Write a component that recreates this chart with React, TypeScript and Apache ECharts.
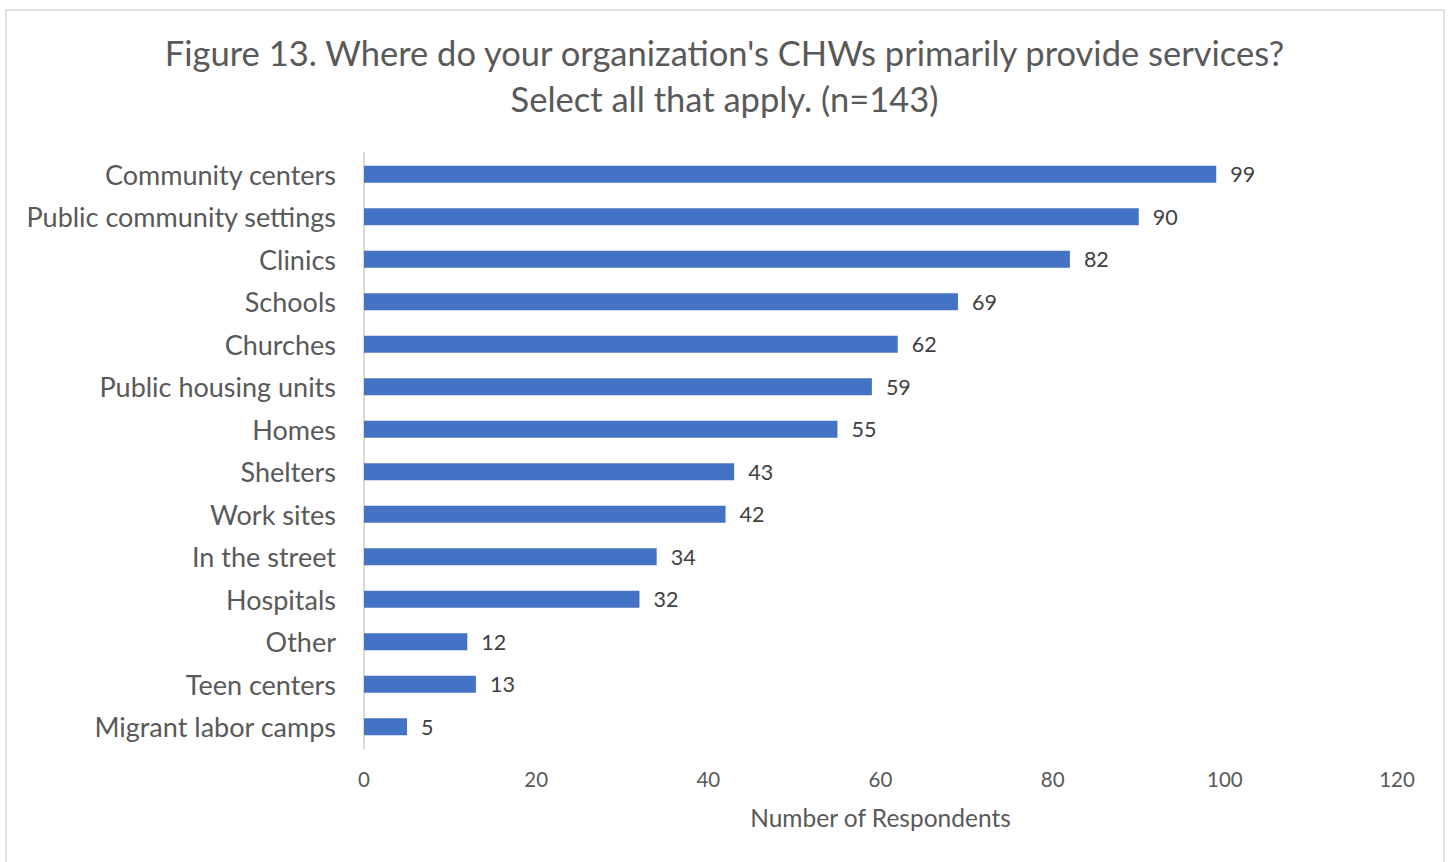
import React, { useEffect, useRef } from "react";
import * as echarts from "echarts";

const categories = [
  "Community centers",
  "Public community settings",
  "Clinics",
  "Schools",
  "Churches",
  "Public housing units",
  "Homes",
  "Shelters",
  "Work sites",
  "In the street",
  "Hospitals",
  "Other",
  "Teen centers",
  "Migrant labor camps",
];
const values = [99, 90, 82, 69, 62, 59, 55, 43, 42, 34, 32, 12, 13, 5];
const titleLines = [
  "Figure 13. Where do your organization's CHWs primarily provide services?",
  "Select all that apply. (n=143)",
];
const xAxisName = "Number of Respondents";

const FONT = "Lato, 'Open Sans', sans-serif";

export default function App() {
  const ref = useRef<HTMLDivElement>(null);
  useEffect(() => {
    if (!ref.current) return;
    const chart = echarts.init(ref.current, undefined, { renderer: "svg" });
    chart.setOption({
      animation: false,
      backgroundColor: "#ffffff",
      textStyle: { fontFamily: FONT },
      title: {
        text: titleLines.join("\n"),
        left: "center",
        top: 24,
        textStyle: {
          fontFamily: FONT,
          fontSize: 34.5,
          fontWeight: "normal",
          color: "#595959",
          lineHeight: 46,
        },
      },
      graphic: [
        {
          type: "rect",
          shape: { x: 6, y: 10, width: 1438, height: 900 },
          style: { fill: "none", stroke: "#d9d9d9", lineWidth: 1.5 },
          silent: true,
        },
      ],
      grid: { left: 364, right: 52, top: 153, bottom: 114, containLabel: false },
      xAxis: {
        type: "value",
        min: 0,
        max: 120,
        interval: 20,
        axisLine: { show: false },
        axisTick: { show: false },
        splitLine: { show: false },
        axisLabel: { color: "#595959", fontSize: 20.5, margin: 20, fontFamily: FONT },
        name: xAxisName,
        nameLocation: "middle",
        nameGap: 57,
        nameTextStyle: { color: "#595959", fontSize: 24.5, fontFamily: FONT },
      },
      yAxis: {
        type: "category",
        data: categories,
        inverse: true,
        axisLine: { show: true, lineStyle: { color: "#d9d9d9", width: 2 } },
        axisTick: { show: false },
        axisLabel: { color: "#595959", fontSize: 27, margin: 28, fontFamily: FONT },
      },
      series: [
        {
          type: "bar",
          data: values,
          barWidth: 17,
          itemStyle: { color: "#4472C4" },
          label: {
            show: true,
            position: "right",
            distance: 14,
            color: "#404040",
            fontSize: 21.5,
            fontFamily: FONT,
          },
        },
      ],
    });
    return () => chart.dispose();
  }, []);
  return (
    <div
      ref={ref}
      style={{ position: "fixed", left: 0, top: 0, width: 1449, height: 862 }}
    />
  );
}
